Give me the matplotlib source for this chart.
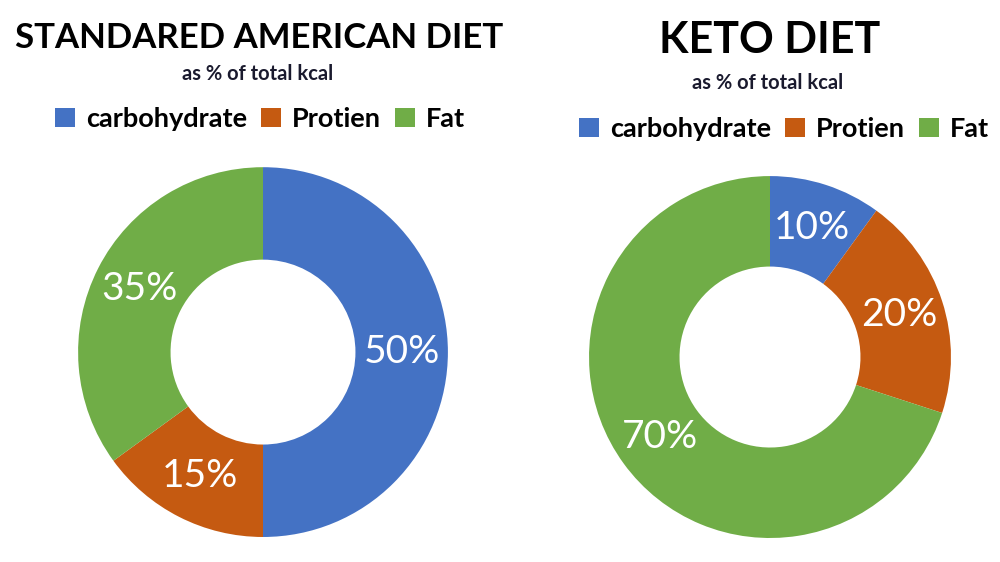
import matplotlib
matplotlib.use("Agg")
import matplotlib.pyplot as plt
from matplotlib.patches import Patch

plt.rcParams['font.family'] = ['Lato', 'DejaVu Sans']

categories = ["carbohydrate", "Protien", "Fat"]
colors = ["#4472C4", "#C55A11", "#70AD47"]

sad_values = [50, 15, 35]    # carb, protein, fat
keto_values = [10, 20, 70]

fig = plt.figure(figsize=(10, 5.62), dpi=100)
fig.patch.set_facecolor("white")


def donut(rect, values):
    ax = fig.add_axes(rect)
    ax.pie(values, colors=colors, startangle=90, counterclock=False,
           radius=1, wedgeprops=dict(width=0.5, linewidth=0),
           autopct=lambda p: f"{p:.0f}%", pctdistance=0.75,
           textprops=dict(color="white", fontsize=28))
    ax.set_xlim(-1, 1)
    ax.set_ylim(-1, 1)
    ax.axis("off")
    return ax


donut([0.078, 0.0445, 0.37, 0.658], sad_values)
donut([0.589, 0.0427, 0.362, 0.644], keto_values)

handles = [Patch(facecolor=c, edgecolor="none") for c in colors]
leg_kw = dict(loc="center", ncol=3, frameon=False, handlelength=0.75,
              handleheight=0.7, handletextpad=0.4, columnspacing=0.5,
              prop=dict(weight="bold", size=19.5))

# left panel
fig.text(0.259, 0.933, "STANDARED AMERICAN DIET", ha="center", va="center",
         fontsize=25, fontweight="bold")
fig.text(0.258, 0.868, "as % of total kcal", ha="center", va="center",
         fontsize=14.5, fontweight="bold", color="#1a1a2e")
fig.legend(handles, categories, bbox_to_anchor=(0.26, 0.788), **leg_kw)

# right panel
fig.text(0.77, 0.929, "KETO DIET", ha="center", va="center",
         fontsize=31, fontweight="bold")
fig.text(0.768, 0.852, "as % of total kcal", ha="center", va="center",
         fontsize=14.5, fontweight="bold", color="#1a1a2e")
fig.legend(handles, categories, bbox_to_anchor=(0.784, 0.770), **leg_kw)

fig.savefig("out.png", dpi=100)
